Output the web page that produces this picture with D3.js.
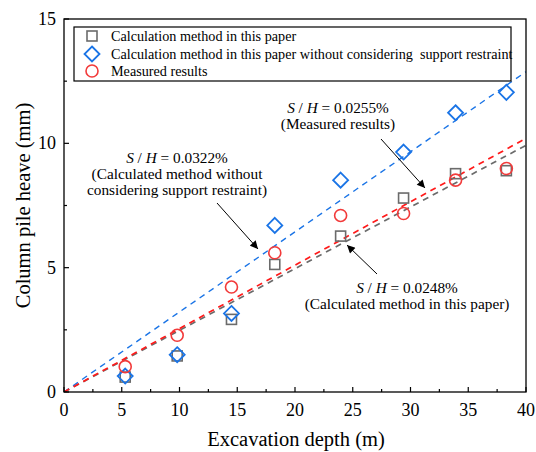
<!DOCTYPE html>
<html>
<head>
<meta charset="utf-8">
<script src="https://cdn.jsdelivr.net/npm/d3@7"></script>
<style>
  body { margin: 0; background: #fff; }
</style>
</head>
<body>
<div id="chart"></div>
<script>
const depth = [5.3, 9.8, 14.5, 18.25, 23.95, 29.4, 33.9, 38.3]
const calcHeave = [0.6, 1.45, 2.92, 5.13, 6.27, 7.8, 8.78, 8.9]
const noRestraintHeave = [0.64, 1.5, 3.16, 6.7, 8.52, 9.65, 11.23, 12.05]
const measuredHeave = [1.02, 2.28, 4.22, 5.6, 7.1, 7.18, 8.52, 8.99]

// fitted slopes S/H (mm per m of depth)
const fitNames = ['calc', 'noRestraint', 'measured']
const fitSlopes = [0.248, 0.322, 0.255]

const xTicks = [0, 5, 10, 15, 20, 25, 30, 35, 40]
const yTicks = [0, 5, 10, 15]

const width = 536
const height = 452
const margin = { top: 19, right: 10, bottom: 60, left: 64 }
const innerWidth = width - margin.left - margin.right
const innerHeight = height - margin.top - margin.bottom
const serif = "'Liberation Serif', 'Times New Roman', Times, 'DejaVu Serif', serif"

const svg = d3.select('#chart').append('svg')
    .attr('width', width)
    .attr('height', height)
    .attr('font-family', serif)
    .style('font-family', serif)

const g = svg.append('g').attr('transform', `translate(${margin.left}, ${margin.top})`)

const x = d3.scaleLinear().domain([0, 40]).range([0, innerWidth])
const y = d3.scaleLinear().domain([0, 15]).range([innerHeight, 0])

const blue = '#1a74e6'
const red = '#f23a3a'
const gray = '#6b6b6b'

// clip for fit lines
g.append('clipPath').attr('id', 'clip').append('rect')
    .attr('width', innerWidth).attr('height', innerHeight)

// fit lines
const lineColors = { calc: gray, noRestraint: blue, measured: '#ff1a1a' }
const lineGen = d3.line().x(d => x(d[0])).y(d => y(d[1]))
fitNames.forEach((name, i) => {
    const k = fitSlopes[i]
    g.append('path')
        .attr('clip-path', 'url(#clip)')
        .attr('d', lineGen([[0, 0], [40, 40 * k]]))
        .attr('fill', 'none')
        .attr('stroke', lineColors[name])
        .attr('stroke-width', name === 'noRestraint' ? 1.4 : 1.7)
        .attr('stroke-dasharray', '6,5')
})

// squares
g.selectAll('.sq').data(depth).enter().append('rect')
    .attr('x', (d, i) => x(d) - 5)
    .attr('y', (d, i) => y(calcHeave[i]) - 5)
    .attr('width', 10).attr('height', 10)
    .attr('fill', 'none').attr('stroke', gray).attr('stroke-width', 1.6)

// diamonds
const diamond = 'M0,-7.5L7.5,0L0,7.5L-7.5,0Z'
g.selectAll('.dm').data(depth).enter().append('path')
    .attr('d', diamond)
    .attr('transform', (d, i) => `translate(${x(d)}, ${y(noRestraintHeave[i])})`)
    .attr('fill', 'none').attr('stroke', blue).attr('stroke-width', 1.8)

// circles
g.selectAll('.ci').data(depth).enter().append('circle')
    .attr('cx', d => x(d))
    .attr('cy', (d, i) => y(measuredHeave[i]))
    .attr('r', 6)
    .attr('fill', 'none').attr('stroke', red).attr('stroke-width', 1.6)

// frame
g.append('rect').attr('width', innerWidth).attr('height', innerHeight)
    .attr('fill', 'none').attr('stroke', '#000').attr('stroke-width', 1.3)

// x axis ticks (inward)
const xMinor = d3.range(2.5, 40, 5)
g.selectAll('.xt').data(xTicks).enter().append('line')
    .attr('x1', d => x(d)).attr('x2', d => x(d))
    .attr('y1', innerHeight).attr('y2', innerHeight - 5)
    .attr('stroke', '#000').attr('stroke-width', 1.2)
g.selectAll('.xm').data(xMinor).enter().append('line')
    .attr('x1', d => x(d)).attr('x2', d => x(d))
    .attr('y1', innerHeight).attr('y2', innerHeight - 3)
    .attr('stroke', '#000').attr('stroke-width', 1.2)
g.selectAll('.xl').data(xTicks).enter().append('text')
    .text(d => d)
    .attr('x', d => x(d)).attr('y', innerHeight + 24)
    .attr('text-anchor', 'middle').attr('font-size', 18)

// y axis ticks (inward)
const yMinor = d3.range(2.5, 15, 5)
g.selectAll('.yt').data(yTicks).enter().append('line')
    .attr('x1', 0).attr('x2', 5)
    .attr('y1', d => y(d)).attr('y2', d => y(d))
    .attr('stroke', '#000').attr('stroke-width', 1.2)
g.selectAll('.ym').data(yMinor).enter().append('line')
    .attr('x1', 0).attr('x2', 3)
    .attr('y1', d => y(d)).attr('y2', d => y(d))
    .attr('stroke', '#000').attr('stroke-width', 1.2)
g.selectAll('.yl').data(yTicks).enter().append('text')
    .text(d => d)
    .attr('x', -8).attr('y', d => y(d) + 6)
    .attr('text-anchor', 'end').attr('font-size', 18)

// axis titles
svg.append('text').text('Excavation depth (m)')
    .attr('x', margin.left + innerWidth / 2 + 1).attr('y', 446)
    .attr('text-anchor', 'middle').attr('font-size', 20.5)
svg.append('text').text('Column pile heave (mm)')
    .attr('transform', `translate(30, ${margin.top + innerHeight / 2}) rotate(-90)`)
    .attr('text-anchor', 'middle').attr('font-size', 20.5)

// legend
const legend = svg.append('g')
legend.append('rect').attr('x', 74).attr('y', 27).attr('width', 437).attr('height', 54)
    .attr('fill', '#fff').attr('stroke', '#000').attr('stroke-width', 1.2)
const legendLabels = [
    'Calculation method in this paper',
    'Calculation method in this paper without considering\u00a0 support restraint',
    'Measured results'
]
const ly = [36, 54, 71]
legend.append('rect').attr('x', 87).attr('y', ly[0] - 5).attr('width', 10).attr('height', 10)
    .attr('fill', 'none').attr('stroke', gray).attr('stroke-width', 1.6)
legend.append('path').attr('d', diamond).attr('transform', `translate(92, ${ly[1]})`)
    .attr('fill', 'none').attr('stroke', blue).attr('stroke-width', 1.8)
legend.append('circle').attr('cx', 92).attr('cy', ly[2]).attr('r', 6)
    .attr('fill', 'none').attr('stroke', red).attr('stroke-width', 1.6)
legend.selectAll('.lt').data(legendLabels).enter().append('text')
    .text(d => d)
    .attr('x', 111).attr('y', (d, i) => ly[i] + 5)
    .attr('font-size', 14.2)

// annotations
function ratioLabel (cx, cy, value, lines) {
    const t = svg.append('text').attr('x', cx).attr('y', cy)
        .attr('text-anchor', 'middle').attr('font-size', 15.3)
    t.append('tspan').attr('font-style', 'italic').text('S')
    t.append('tspan').text(' / ')
    t.append('tspan').attr('font-style', 'italic').text('H')
    t.append('tspan').text(` = ${value}%`)
    lines.forEach((l, i) => {
        svg.append('text').text(l)
            .attr('x', cx).attr('y', cy + 16 * (i + 1))
            .attr('text-anchor', 'middle').attr('font-size', 15.3)
    })
}

svg.append('defs').append('marker')
    .attr('id', 'arrow').attr('viewBox', '0 0 10 10')
    .attr('refX', 10).attr('refY', 5)
    .attr('markerWidth', 10).attr('markerHeight', 8)
    .attr('markerUnits', 'userSpaceOnUse')
    .attr('orient', 'auto')
    .append('path').attr('d', 'M0,0L10,5L0,10Z').attr('fill', '#000')

function arrow (x1, y1, x2, y2) {
    svg.append('line').attr('x1', x1).attr('y1', y1).attr('x2', x2).attr('y2', y2)
        .attr('stroke', '#000').attr('stroke-width', 1)
        .attr('marker-end', 'url(#arrow)')
}

ratioLabel(177, 163, '0.0322', ['(Calculated method without', 'considering support restraint)'])
arrow(217, 203, 258, 249)

ratioLabel(338, 113, '0.0255', ['(Measured results)'])
arrow(381, 139, 425, 188)

ratioLabel(407, 293, '0.0248', ['(Calculated method in this paper)'])
arrow(377, 274, 347, 245)
</script>
</body>
</html>
